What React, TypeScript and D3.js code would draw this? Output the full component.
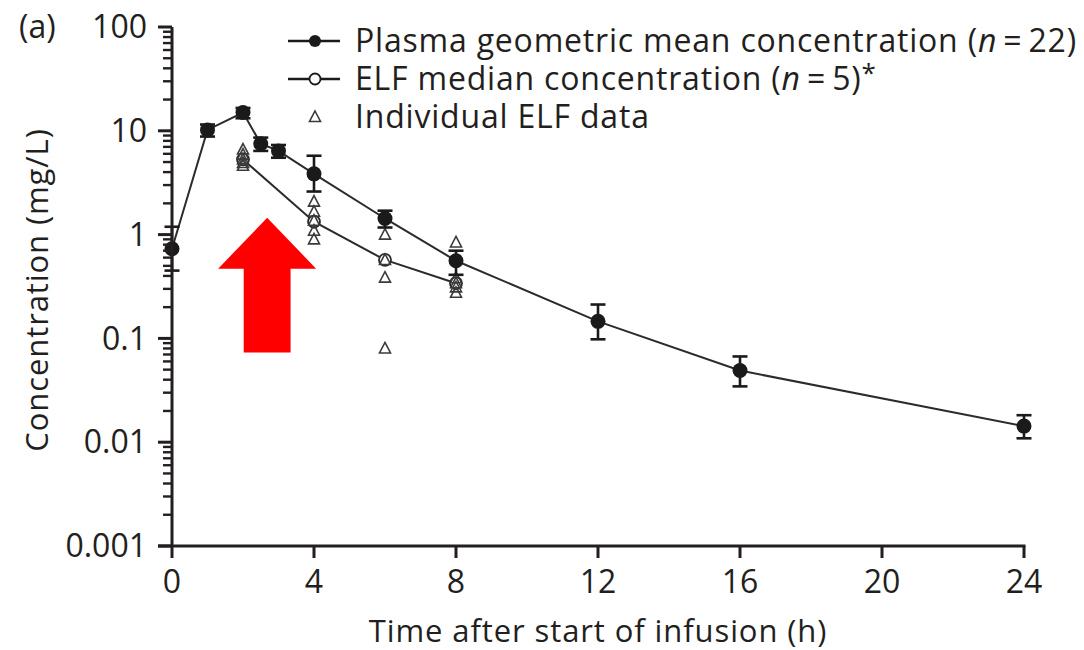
import React from 'react';
import * as d3 from 'd3';

// ---- data ----
const times = [0, 1, 2, 2.5, 3, 4, 6, 8, 12, 16, 24];
const plasmaMean = [0.73, 10.2, 15.0, 7.5, 6.4, 3.85, 1.43, 0.56, 0.146, 0.049, 0.0143];
const plasmaLow = [0.45, 8.8, 13.2, 6.4, 5.5, 2.6, 1.17, 0.41, 0.098, 0.0345, 0.0109];
const plasmaHigh = [1.19, 11.5, 16.6, 8.6, 7.3, 5.75, 1.7, 0.7, 0.212, 0.067, 0.0182];

const elfTimes = [2, 4, 6, 8];
const elfMedian = [5.3, 1.33, 0.57, 0.34];

const indivTimes = [2, 2, 2, 2, 2, 4, 4, 4, 4, 4, 6, 6, 6, 6, 8, 8, 8, 8, 8];
const indivValues = [6.6, 5.9, 5.3, 4.9, 4.6, 2.08, 1.66, 1.36, 1.09, 0.9, 1.0, 0.57, 0.385, 0.08, 0.84, 0.38, 0.34, 0.31, 0.275];

const xTicks = [0, 4, 8, 12, 16, 20, 24];
const yTicks = [0.001, 0.01, 0.1, 1, 10, 100];
const yTickLabels = ['0.001', '0.01', '0.1', '1', '10', '100'];

// arrow annotation (data units)
const arrowX = 2.68;
const arrowTip = 1.45;
const arrowHeadBase = 0.47;
const arrowBottom = 0.073;
const arrowHeadHalf = 1.38;
const arrowShaftHalf = 0.66;

const FONT = "'Open Sans', 'Noto Sans', sans-serif";

export default function App() {
  const x = d3.scaleLinear().domain([0, 24]).range([172, 1024]);
  const y = d3.scaleLog().domain([0.001, 100]).range([546, 27]);

  const minorTicks: number[] = [];
  for (let e = -3; e < 2; e++) {
    for (let m = 2; m <= 9; m++) minorTicks.push(m * Math.pow(10, e));
  }

  const line = d3
    .line<[number, number]>()
    .x((d) => x(d[0]))
    .y((d) => y(d[1]));

  const plasmaPts = times.map((t, i) => [t, plasmaMean[i]] as [number, number]);
  const elfPts = elfTimes.map((t, i) => [t, elfMedian[i]] as [number, number]);

  const tri = (cx: number, cy: number, s: number) =>
    `M${cx},${cy - s * 0.6} L${cx + s * 0.55},${cy + s * 0.45} L${cx - s * 0.55},${cy + s * 0.45} Z`;

  const arrowPts: [number, number][] = [
    [arrowX, arrowTip],
    [arrowX + arrowHeadHalf, arrowHeadBase],
    [arrowX + arrowShaftHalf, arrowHeadBase],
    [arrowX + arrowShaftHalf, arrowBottom],
    [arrowX - arrowShaftHalf, arrowBottom],
    [arrowX - arrowShaftHalf, arrowHeadBase],
    [arrowX - arrowHeadHalf, arrowHeadBase],
  ];

  const axisColor = '#231f20';
  const capW = 7.5;

  return (
    <svg
      width={1084}
      height={650}
      style={{ position: 'absolute', left: 0, top: 0, background: '#fff' }}
      fontFamily={FONT}
    >
      {/* lines */}
      <path d={line(plasmaPts) || ''} fill="none" stroke="#2b2b2b" strokeWidth={2} />
      <path d={line(elfPts) || ''} fill="none" stroke="#2b2b2b" strokeWidth={2} />

      {/* ELF median open circles */}
      {elfPts.map((p, i) => (
        <circle key={'o' + i} cx={x(p[0])} cy={y(p[1])} r={6} fill="#fff" stroke="#2b2b2b" strokeWidth={1.8} />
      ))}

      {/* individual ELF triangles */}
      {indivTimes.map((t, i) => (
        <path key={'t' + i} d={tri(x(t), y(indivValues[i]), 10)} fill="none" stroke="#3a3a3a" strokeWidth={1.6} />
      ))}

      {/* error bars */}
      {times.map((t, i) => (
        <g key={'e' + i} stroke="#1a1a1a" strokeWidth={2.6}>
          <line x1={x(t)} x2={x(t)} y1={y(plasmaLow[i])} y2={y(plasmaHigh[i])} />
          <line x1={x(t) - capW} x2={x(t) + capW} y1={y(plasmaLow[i])} y2={y(plasmaLow[i])} />
          <line x1={x(t) - capW} x2={x(t) + capW} y1={y(plasmaHigh[i])} y2={y(plasmaHigh[i])} />
        </g>
      ))}

      {/* plasma filled circles */}
      {plasmaPts.map((p, i) => (
        <circle key={'c' + i} cx={x(p[0])} cy={y(p[1])} r={7.5} fill="#1a1a1a" />
      ))}

      {/* axes */}
      <line x1={172} x2={172} y1={y(100)} y2={y(0.001)} stroke={axisColor} strokeWidth={3} />
      <line x1={x(0) - 14} x2={x(24) + 1.5} y1={y(0.001)} y2={y(0.001)} stroke={axisColor} strokeWidth={3} />
      {yTicks.map((v, i) => (
        <g key={'y' + i}>
          <line x1={x(0) - 14} x2={x(0)} y1={y(v)} y2={y(v)} stroke={axisColor} strokeWidth={3} />
          <text x={147} y={y(v)} dy="0.35em" textAnchor="end" fontSize={32} fill={axisColor}>
            {yTickLabels[i]}
          </text>
        </g>
      ))}
      {minorTicks.map((v, i) => (
        <line key={'m' + i} x1={x(0) - 9} x2={x(0)} y1={y(v)} y2={y(v)} stroke={axisColor} strokeWidth={2.4} />
      ))}
      {xTicks.map((t) => (
        <g key={'x' + t}>
          <line x1={x(t)} x2={x(t)} y1={y(0.001)} y2={y(0.001) + 12} stroke={axisColor} strokeWidth={3} />
          <text x={x(t)} y={593} textAnchor="middle" fontSize={32} fill={axisColor}>
            {t}
          </text>
        </g>
      ))}

      {/* axis titles */}
      <text x={598} y={642} textAnchor="middle" fontSize={31} letterSpacing={0.9} fill={axisColor}>
        Time after start of infusion (h)
      </text>
      <text transform="translate(48,290) rotate(-90)" textAnchor="middle" fontSize={31} letterSpacing={0.9} fill={axisColor}>
        Concentration (mg/L)
      </text>
      <text x={19} y={38} fontSize={32} fill={axisColor}>
        (a)
      </text>

      {/* legend */}
      <g>
        <line x1={288} x2={340} y1={41} y2={41} stroke="#1a1a1a" strokeWidth={2.4} />
        <circle cx={315} cy={41} r={6} fill="#1a1a1a" />
        <text x={355} y={52} fontSize={32} letterSpacing={0.8} fill={axisColor}>
          Plasma geometric mean concentration (<tspan fontStyle="italic">n</tspan>{'\u2009=\u200922)'}
        </text>
        <line x1={288} x2={340} y1={79} y2={79} stroke="#1a1a1a" strokeWidth={2.4} />
        <circle cx={315} cy={79} r={5.5} fill="#fff" stroke="#1a1a1a" strokeWidth={1.8} />
        <text x={355} y={90} fontSize={32} letterSpacing={0.8} fill={axisColor}>
          ELF median concentration (<tspan fontStyle="italic">n</tspan>{'\u2009=\u20095)'}
          <tspan fontSize={26} dy={-8}>*</tspan>
        </text>
        <path d={tri(315, 117, 10)} fill="none" stroke="#3a3a3a" strokeWidth={1.6} />
        <text x={355} y={128} fontSize={32} letterSpacing={0.8} fill={axisColor}>
          Individual ELF data
        </text>
      </g>

      {/* red arrow annotation */}
      <polygon points={arrowPts.map((p) => `${x(p[0])},${y(p[1])}`).join(' ')} fill="#ff0000" />
    </svg>
  );
}
